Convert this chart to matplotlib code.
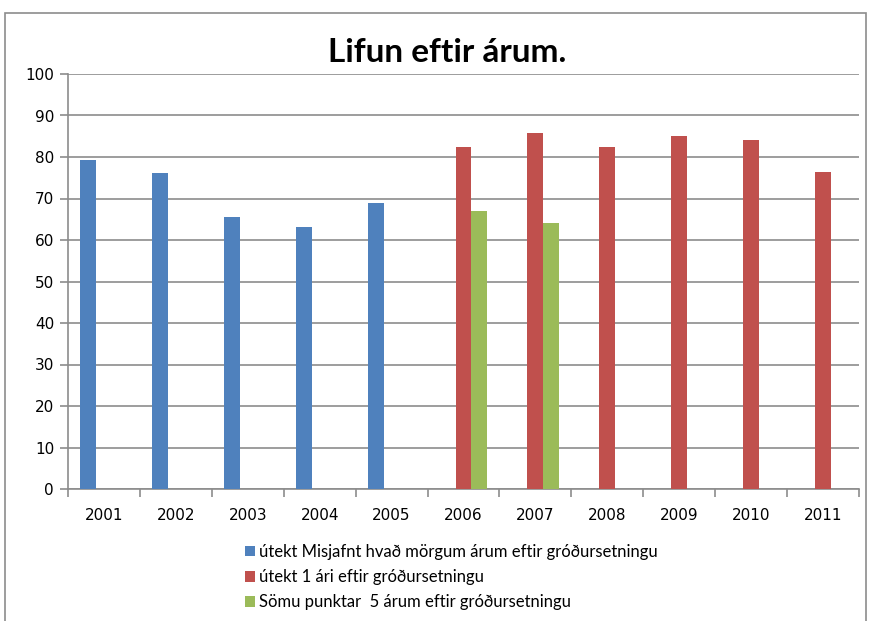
import numpy as np
import matplotlib
matplotlib.use("Agg")
import matplotlib.pyplot as plt
from matplotlib.patches import Rectangle

years = ["2001", "2002", "2003", "2004", "2005", "2006",
         "2007", "2008", "2009", "2010", "2011"]
misjafnt = [79.2, 76.2, 65.5, 63.2, 69.0, 0, 0, 0, 0, 0, 0]
eitt_ar = [0, 0, 0, 0, 0, 82.4, 85.8, 82.4, 85.1, 84.2, 76.3]
fimm_ar = [0, 0, 0, 0, 0, 67.0, 64.0, 0, 0, 0, 0]
labels = ["útekt Misjafnt hvað mörgum árum eftir gróðursetningu",
          "útekt 1 ári eftir gróðursetningu",
          "Sömu punktar  5 árum eftir gróðursetningu"]
colors = ["#4F81BD", "#C0504D", "#9BBB59"]

W, H = 877, 621
fig = plt.figure(figsize=(W / 100, H / 100), dpi=100)
ax = fig.add_axes([68 / W, 1 - 489 / H, (859 - 68) / W, (489 - 74) / H])

x = np.arange(len(years))
bw = 1 / 4.5
for i, (vals, lab, c) in enumerate(zip([misjafnt, eitt_ar, fimm_ar], labels, colors)):
    ax.bar(x + (i - 1) * bw, vals, width=bw, color=c, label=lab,
           edgecolor="none", zorder=3)

ax.set_xlim(-0.5, len(years) - 0.5)
ax.set_ylim(0, 100)
ax.set_yticks(range(0, 101, 10))
ax.yaxis.grid(True, color="#8c8c8c", linewidth=1.2, zorder=0)
ax.set_xticks(x)
ax.set_xticklabels(years)
ax.set_xticks(np.arange(-0.5, len(years), 1), minor=True)
ax.tick_params(axis="x", which="major", length=0, pad=14, labelsize=11)
ax.tick_params(axis="x", which="minor", length=6, color="#8c8c8c", width=1.2)
ax.tick_params(axis="y", length=6, color="#8c8c8c", width=1.2, labelsize=11, pad=4)
for s in ["top", "right"]:
    ax.spines[s].set_visible(False)
for s in ["left", "bottom"]:
    ax.spines[s].set_color("#8c8c8c")
    ax.spines[s].set_linewidth(1.2)

fig.text(447 / W, 1 - 53 / H, "Lifun eftir árum.", ha="center", va="center",
         fontsize=24, fontweight="bold", family="Lato")

leg = ax.legend(loc="upper left", bbox_to_anchor=(230 / W, 1 - 529 / H),
                bbox_transform=fig.transFigure, frameon=False,
                prop={"family": "Lato", "size": 12}, handlelength=0.6,
                handleheight=0.6, handletextpad=0.25, labelspacing=0.55)

fig.patches.append(Rectangle((5 / W, -0.1), (866 - 5) / W, 1.1 - 13 / H,
                             transform=fig.transFigure, fill=False,
                             edgecolor="#8c8c8c", linewidth=1.2))

fig.savefig("out.png", dpi=100)
